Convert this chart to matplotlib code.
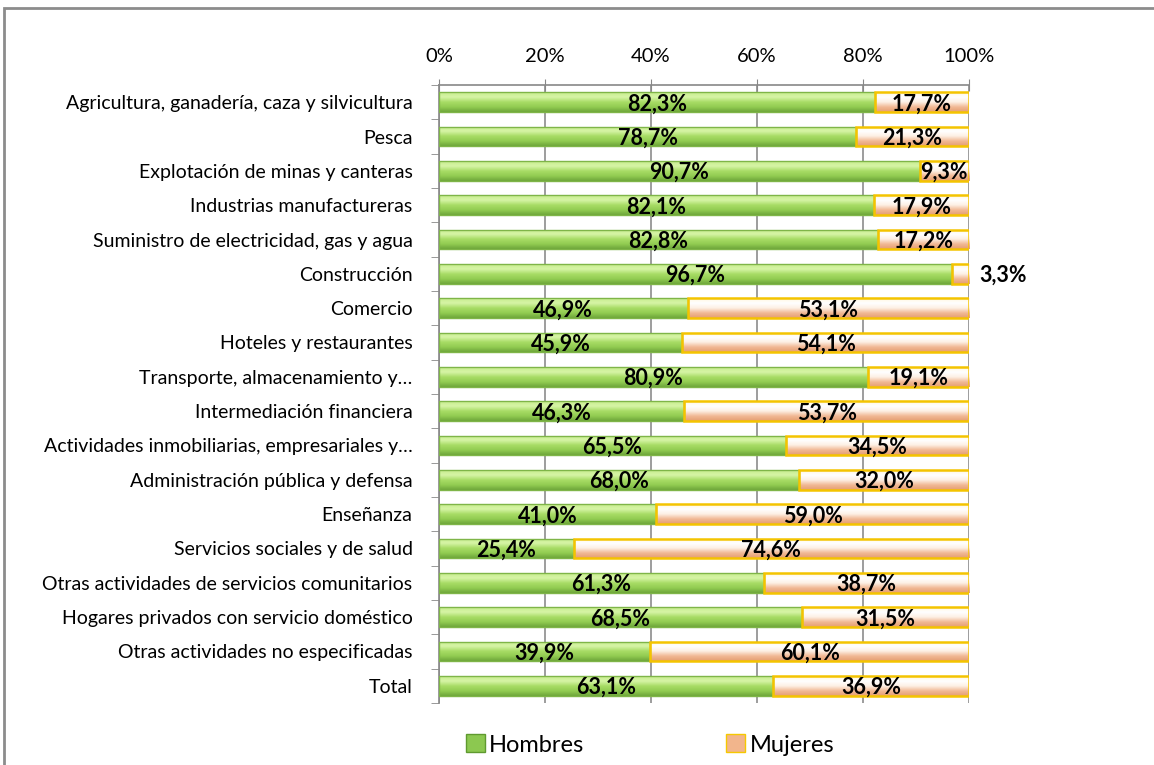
import matplotlib
matplotlib.use("Agg")
import matplotlib.pyplot as plt
import numpy as np
from matplotlib.patches import Rectangle, Patch
from matplotlib.colors import LinearSegmentedColormap

# Datos
categorias = [
    "Agricultura, ganadería, caza y silvicultura",
    "Pesca",
    "Explotación de minas y canteras",
    "Industrias manufactureras",
    "Suministro de electricidad, gas y agua",
    "Construcción",
    "Comercio",
    "Hoteles y restaurantes",
    "Transporte, almacenamiento y…",
    "Intermediación financiera",
    "Actividades inmobiliarias, empresariales y…",
    "Administración pública y defensa",
    "Enseñanza",
    "Servicios sociales y de salud",
    "Otras actividades de servicios comunitarios",
    "Hogares privados con servicio doméstico",
    "Otras actividades no especificadas",
    "Total",
]
hombres = [82.3, 78.7, 90.7, 82.1, 82.8, 96.7, 46.9, 45.9, 80.9, 46.3,
           65.5, 68.0, 41.0, 25.4, 61.3, 68.5, 39.9, 63.1]
mujeres = [17.7, 21.3, 9.3, 17.9, 17.2, 3.3, 53.1, 54.1, 19.1, 53.7,
           34.5, 32.0, 59.0, 74.6, 38.7, 31.5, 60.1, 36.9]
xticks = [0, 20, 40, 60, 80, 100]

plt.rcParams['font.family'] = ['Lato', 'DejaVu Sans']

green_cmap = LinearSegmentedColormap.from_list(
    "verde", ["#c8ee8e", "#d6f4a6", "#a8dc66", "#92cc52", "#6ea63a"])
orange_cmap = LinearSegmentedColormap.from_list(
    "naranja", ["#fff6e0", "#ffffff", "#fdf0e4", "#f1b995", "#e59e72"])

fig = plt.figure(figsize=(11.54, 7.65), dpi=100)
ax = fig.add_axes([439 / 1154, 1 - 703 / 765, 530 / 1154, (703 - 85) / 765])

n = len(categorias)
y = np.arange(n)
h = 0.58
grad = np.linspace(0, 1, 64).reshape(-1, 1)


def gradient_bar(x0, width, yc, cmap, edge, lw):
    rect = Rectangle((x0, yc - h / 2), width, h, facecolor="none",
                     edgecolor=edge, linewidth=lw, zorder=4)
    ax.add_patch(rect)
    im = ax.imshow(grad, cmap=cmap, aspect="auto", origin="upper",
                   extent=(x0, x0 + width, yc + h / 2, yc - h / 2), zorder=3)
    im.set_clip_path(rect)


for i in range(n):
    gradient_bar(0, hombres[i], y[i], green_cmap, "#7fb548", 1.0)
    gradient_bar(hombres[i], mujeres[i], y[i], orange_cmap, "#f4c400", 1.8)

    ax.text(hombres[i] / 2, y[i] + 0.05,
            f"{hombres[i]:.1f}".replace(".", ",") + "%",
            ha="center", va="center", fontsize=15.5, fontweight="bold", zorder=6)
    lab = f"{mujeres[i]:.1f}".replace(".", ",") + "%"
    if mujeres[i] < 5:
        ax.text(102, y[i] + 0.05, lab, ha="left", va="center",
                fontsize=15.5, fontweight="bold", zorder=6, clip_on=False)
    else:
        ax.text(hombres[i] + mujeres[i] / 2, y[i] + 0.05, lab,
                ha="center", va="center", fontsize=15.5, fontweight="bold", zorder=6)

ax.set_xlim(0, 100)
ax.set_ylim(n - 0.5, -0.5)

ax.xaxis.tick_top()
ax.set_xticks(xticks)
ax.set_xticklabels([f"{t}%" for t in xticks], fontsize=14.5)
ax.tick_params(axis="x", direction="inout", length=9, color="#888888", pad=10)
ax.grid(axis="x", color="#8c8c8c", linewidth=1.2, zorder=0)
ax.set_axisbelow(True)

ax.set_yticks(y)
ax.set_yticklabels(categorias, fontsize=14)
ax.set_yticks(np.arange(n + 1) - 0.5, minor=True)
ax.tick_params(axis="y", which="major", length=0, pad=19)
ax.tick_params(axis="y", which="minor", length=6, color="#888888", direction="out")

for s in ["right", "bottom"]:
    ax.spines[s].set_visible(False)
for s in ["left", "top"]:
    ax.spines[s].set_color("#888888")
    ax.spines[s].set_linewidth(1.2)

# marco exterior del gráfico
fig.patches.append(Rectangle((4 / 1154, -0.2), 1.2, 1.2 - 8 / 765,
                             transform=fig.transFigure, fill=False,
                             edgecolor="#8c8c8c", linewidth=2))

handles = [Patch(facecolor="#8cc850", edgecolor="#5f9a2f", label="Hombres"),
           Patch(facecolor="#f2b58c", edgecolor="#f5c800", label="Mujeres")]
fig.legend(handles=handles, loc="center", bbox_to_anchor=(650 / 1154, 1 - 745 / 765),
           ncol=2, frameon=False, fontsize=17, columnspacing=6.0,
           handlelength=0.8, handleheight=0.8, handletextpad=0.2)

fig.savefig("out.png", dpi=100)
